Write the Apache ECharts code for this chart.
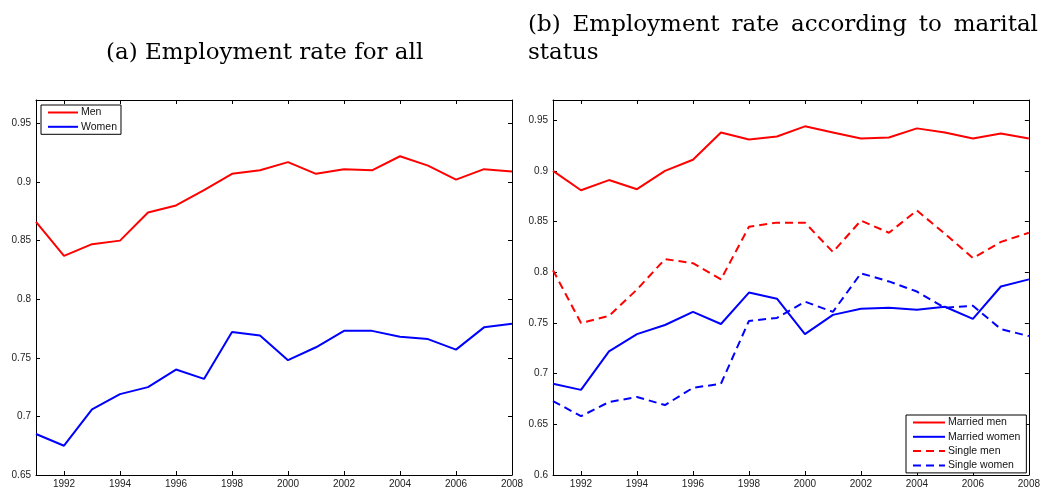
<!DOCTYPE html>
<html>
<head>
<meta charset="utf-8">
<script src="https://cdn.jsdelivr.net/npm/echarts@6/dist/echarts.min.js"></script>
<style>
  html, body { margin: 0; padding: 0; background: #ffffff; }
  #chart { width: 1043px; height: 490px; }
</style>
</head>
<body>
<div id="chart"></div>
<script>
// data
const years = ['1991','1992','1993','1994','1995','1996','1997','1998','1999','2000','2001','2002','2003','2004','2005','2006','2007','2008']
const men = [0.866,0.837,0.847,0.850,0.874,0.880,0.893,0.907,0.910,0.917,0.907,0.911,0.910,0.922,0.914,0.902,0.911,0.909]
const women = [0.685,0.675,0.706,0.719,0.725,0.740,0.732,0.772,0.769,0.748,0.759,0.773,0.773,0.768,0.766,0.757,0.776,0.779]
const marriedMen = [0.900,0.881,0.891,0.882,0.900,0.911,0.938,0.931,0.934,0.944,0.938,0.932,0.933,0.942,0.938,0.932,0.937,0.932]
const marriedWomen = [0.690,0.684,0.722,0.739,0.748,0.761,0.749,0.780,0.774,0.739,0.758,0.764,0.765,0.763,0.766,0.754,0.786,0.793]
const singleMen = [0.802,0.750,0.757,0.783,0.813,0.809,0.793,0.845,0.849,0.849,0.820,0.851,0.839,0.861,0.838,0.814,0.830,0.839]
const singleWomen = [0.673,0.658,0.672,0.677,0.669,0.686,0.690,0.752,0.755,0.771,0.761,0.799,0.791,0.781,0.765,0.767,0.744,0.737]

const RED = '#ff0000'
const BLUE = '#0000ff'
const sans = 'Liberation Sans'
const serif = 'DejaVu Serif'

const isEven = (i, v) => Number(v) % 2 === 0
const yLabel = v => Math.abs(v * 20 - Math.round(v * 20)) < 1e-6 ? String(+v.toFixed(2)) : ''

function xAxes(gridIndex) {
  const base = {
    type: 'category', gridIndex, data: years, boundaryGap: false,
    axisLine: { show: true, lineStyle: { color: '#000', width: 1 } },
    axisTick: { show: true, inside: true, length: 4, interval: isEven, lineStyle: { color: '#000' } },
    splitLine: { show: false }
  }
  return [
    Object.assign({}, base, { position: 'bottom',
      axisLabel: { interval: isEven, color: '#222', fontFamily: sans, fontSize: 10, margin: 4 } }),
    Object.assign({}, base, { position: 'top', axisLabel: { show: false } })
  ]
}

function yAxes(gridIndex, min) {
  const base = {
    type: 'value', gridIndex, min, max: 0.97, interval: 0.05,
    axisLine: { show: true, lineStyle: { color: '#000', width: 1 } },
    axisTick: { show: true, inside: true, length: 4, lineStyle: { color: '#000' } },
    splitLine: { show: false }
  }
  return [
    Object.assign({}, base, { position: 'left',
      axisLabel: { formatter: yLabel, color: '#222', fontFamily: sans, fontSize: 10, margin: 5 } }),
    Object.assign({}, base, { position: 'right', axisLabel: { show: false } })
  ]
}

function line(name, data, color, dashed, axisIndex) {
  return {
    name, type: 'line', data, xAxisIndex: axisIndex, yAxisIndex: axisIndex,
    symbol: 'none', smooth: false, animation: false,
    lineStyle: { color, width: 2, type: dashed ? [8, 5] : 'solid' },
    itemStyle: { color }
  }
}

const legendBase = {
  orient: 'vertical',
  backgroundColor: '#fff', borderColor: '#000', borderWidth: 1,
  itemWidth: 32, itemHeight: 10, itemGap: 3.3,
  itemStyle: { opacity: 0, borderWidth: 0 },
  textStyle: { fontFamily: sans, fontSize: 10.5, color: '#111', padding: [0, 0, 0, -2] },
  selectedMode: false
}

const titleStyle = { fontFamily: serif, fontWeight: 'normal', fontSize: 23, lineHeight: 28, color: '#000' }
// widened gaps to mimic the justified first line of (b)
const gap = ' \u2009'

const chart = echarts.init(document.getElementById('chart'), null, { renderer: 'canvas' })
const option = {
  backgroundColor: '#ffffff',
  animation: false,
  title: [
    { text: '(a) Employment rate for all', left: 106, top: 39, padding: 0, textStyle: titleStyle },
    { text: ['(b)', 'Employment', 'rate', 'according', 'to', 'marital'].join(gap), left: 528, top: 11, padding: 0, textStyle: titleStyle },
    { text: 'status', left: 528, top: 39, padding: 0, textStyle: titleStyle }
  ],
  grid: [
    { left: 36, top: 100, width: 476, height: 375 },
    { left: 553, top: 100, width: 477, height: 375 }
  ],
  xAxis: [...xAxes(0), ...xAxes(1)],
  yAxis: [...yAxes(0, 0.65), ...yAxes(1, 0.6)],
  legend: [
    Object.assign({}, legendBase, { left: 41, top: 105, padding: [2, 4, 2, 6], itemWidth: 30, data: ['Men', 'Women'] }),
    Object.assign({}, legendBase, { left: 906, top: 415, padding: [2, 6, 2, 6],
      data: ['Married men', 'Married women', 'Single men', 'Single women'] })
  ],
  series: [
    line('Men', men, RED, false, 0),
    line('Women', women, BLUE, false, 0),
    line('Married men', marriedMen, RED, false, 2),
    line('Married women', marriedWomen, BLUE, false, 2),
    line('Single men', singleMen, RED, true, 2),
    line('Single women', singleWomen, BLUE, true, 2)
  ]
}
option && chart.setOption(option)
</script>
</body>
</html>
